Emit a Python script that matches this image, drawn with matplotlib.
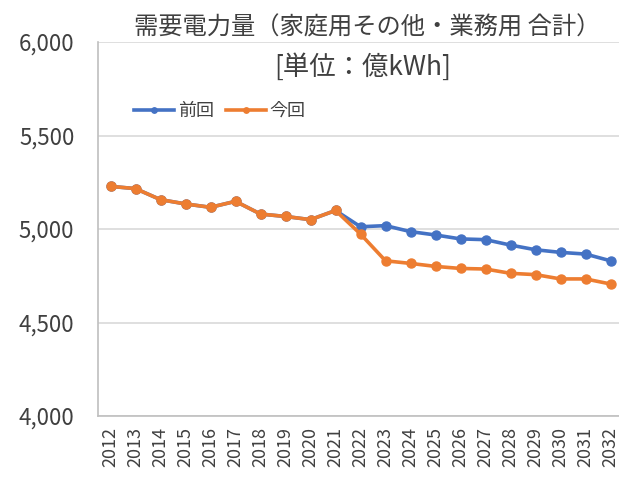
import numpy as np
import matplotlib
matplotlib.use("Agg")
import matplotlib.pyplot as plt

plt.rcParams['font.family'] = ['Noto Sans CJK JP', 'DejaVu Sans']

years = [str(y) for y in range(2012, 2033)]
prev = [5228, 5216, 5157, 5134, 5116, 5148, 5080, 5067, 5050, 5099,
        5012, 5018, 4986, 4968, 4947, 4943, 4914, 4889, 4875, 4866, 4830]
curr = [5228, 5216, 5157, 5134, 5116, 5148, 5080, 5067, 5050, 5099,
        4973, 4830, 4816, 4800, 4789, 4786, 4763, 4756, 4733, 4733, 4706]
yticks = [4000, 4500, 5000, 5500, 6000]

W, H = 619, 482
fig = plt.figure(figsize=(W / 100, H / 100), dpi=100)
ax = fig.add_axes([98 / W, 1 - 416 / H, (623 - 98) / W, (416 - 42) / H])

x = np.arange(len(years))
ax.plot(x, prev, color="#4472C4", lw=2.6, marker="o", ms=6.5, label="前回")
ax.plot(x, curr, color="#ED7D31", lw=2.6, marker="o", ms=6.5, label="今回")

ax.set_xlim(-0.5, len(years) - 0.5)
ax.set_ylim(4000, 6000)
ax.set_yticks(yticks)
ax.set_yticklabels([f"{v:,}" for v in yticks])
ax.set_xticks(x)
ax.set_xticklabels(years, rotation=90)
ax.tick_params(axis='y', labelsize=16, colors="#404040", length=0, pad=17)
ax.tick_params(axis='x', labelsize=13, colors="#404040", length=0, pad=8)
ax.yaxis.grid(True, color="#D9D9D9", lw=1.2)
ax.set_axisbelow(True)
for s in ["top", "right"]:
    ax.spines[s].set_visible(False)
for s in ["left", "bottom"]:
    ax.spines[s].set_color("#BFBFBF")
    ax.spines[s].set_linewidth(1.2)

fig.text(367 / W, 1 - 28 / H, "需要電力量（家庭用その他・業務用 合計）",
         ha="center", va="center", fontsize=17.5, color="#404040")
fig.text(363 / W, 1 - 67 / H, "[単位：億kWh]",
         ha="center", va="center", fontsize=19, color="#404040")
ax.legend(loc="center left", bbox_to_anchor=(118 / W, 1 - 111 / H),
          bbox_transform=fig.transFigure, ncol=2, frameon=False,
          fontsize=13, handlelength=2.2, handletextpad=0.2, columnspacing=0.7,
          markerscale=0.6, labelcolor="#404040")

fig.savefig("out.png", dpi=100)
